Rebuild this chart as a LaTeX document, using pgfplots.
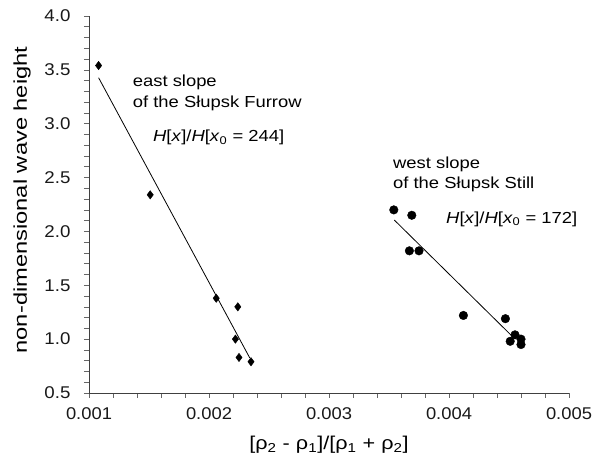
\documentclass[border=0pt]{standalone}
\usepackage{pgfplots}
\pgfplotsset{compat=1.18}
\usepackage{fontspec}
\setmainfont{Liberation Sans}
\newcommand{\sx}[2][1.15]{\scalebox{#1}[1]{#2}}
\begin{document}
\begin{tikzpicture}
\begin{axis}[
  scale only axis, width=480pt, height=377pt,
  xmin=0.001, xmax=0.005, ymin=0.5, ymax=4.0,
  axis lines=left, axis line style={black!75, -}, 
  tick align=outside, tick style={black!60, line width=0.6pt},
  major tick length=5pt, minor tick length=5pt,
  xtick={0.001,0.002,0.003,0.004,0.005},
  xticklabels={\sx[1.08]{0.001},\sx[1.08]{0.002},\sx[1.08]{0.003},\sx[1.08]{0.004},\sx[1.08]{0.005}},
  minor x tick num=4,
  ytick={0.5,1.0,...,4.0},
  yticklabels={\sx[1.1]{0.5},\sx[1.1]{1.0},\sx[1.1]{1.5},\sx[1.1]{2.0},\sx[1.1]{2.5},\sx[1.1]{3.0},\sx[1.1]{3.5},\sx[1.1]{4.0}},
  minor y tick num=4,
  scaled x ticks=false,
  tick label style={font=\fontsize{17}{20}\selectfont, black!90},
  xticklabel style={yshift=-6pt},
  yticklabel style={xshift=-10pt},
  /pgf/number format/assume math mode=true,
  xlabel={\sx[1.17]{[ρ\textsubscript{2} - ρ\textsubscript{1}]/[ρ\textsubscript{1} + ρ\textsubscript{2}]}},
  ylabel={\sx[1.28]{non-dimensional wave height}},
  xlabel style={yshift=-10pt, font=\fontsize{18.5}{20}\selectfont},
  every axis y label/.style={at={(axis description cs:0,0.512)}, xshift=-67pt, rotate=90, anchor=center, font=\fontsize{18.5}{20}\selectfont},
  clip=false,
]
\addplot[only marks, mark=diamond*, mark size=4.2pt, mark options={fill=black}] coordinates {
(0.00108,3.54) (0.00151,2.34) (0.00206,1.38) (0.00224,1.30) (0.00222,1.00) (0.00225,0.83) (0.00235,0.79)
};
\addplot[black, line width=0.8pt, no marks] coordinates {(0.00108,3.427) (0.00234,0.825)};
\addplot[only marks, mark=*, mark size=4.3pt, mark options={fill=black}] coordinates {
(0.00354,2.20) (0.00369,2.15) (0.00367,1.82) (0.00375,1.82) (0.00412,1.22) (0.00447,1.19) (0.00455,1.04) (0.00460,1.00) (0.00451,0.98) (0.00460,0.95)
};
\addplot[black, line width=0.8pt, no marks] coordinates {(0.003544,2.106) (0.004531,1.022)};
\tikzset{ann/.style={anchor=base west, inner sep=0pt, font=\fontsize{16}{20}\selectfont}}
\node[ann] at (axis cs:0.001364,3.344) {\sx{east slope}};
\node[ann] at (axis cs:0.001364,3.146) {\sx{of the Słupsk Furrow}};
\node[ann] at (axis cs:0.001533,2.833) {\sx{\textit{H}[\textit{x}]/\textit{H}[\textit{x}\textsubscript{0} = 244]}};
\node[ann] at (axis cs:0.003533,2.586) {\sx{west slope}};
\node[ann] at (axis cs:0.003533,2.394) {\sx{of the Słupsk Still}};
\node[ann] at (axis cs:0.003975,2.078) {\sx{\textit{H}[\textit{x}]/\textit{H}[\textit{x}\textsubscript{0} = 172]}};
\end{axis}
\pgfresetboundingbox
\path (-89pt,-67pt) rectangle (519pt,393pt);
\end{tikzpicture}
\end{document}
